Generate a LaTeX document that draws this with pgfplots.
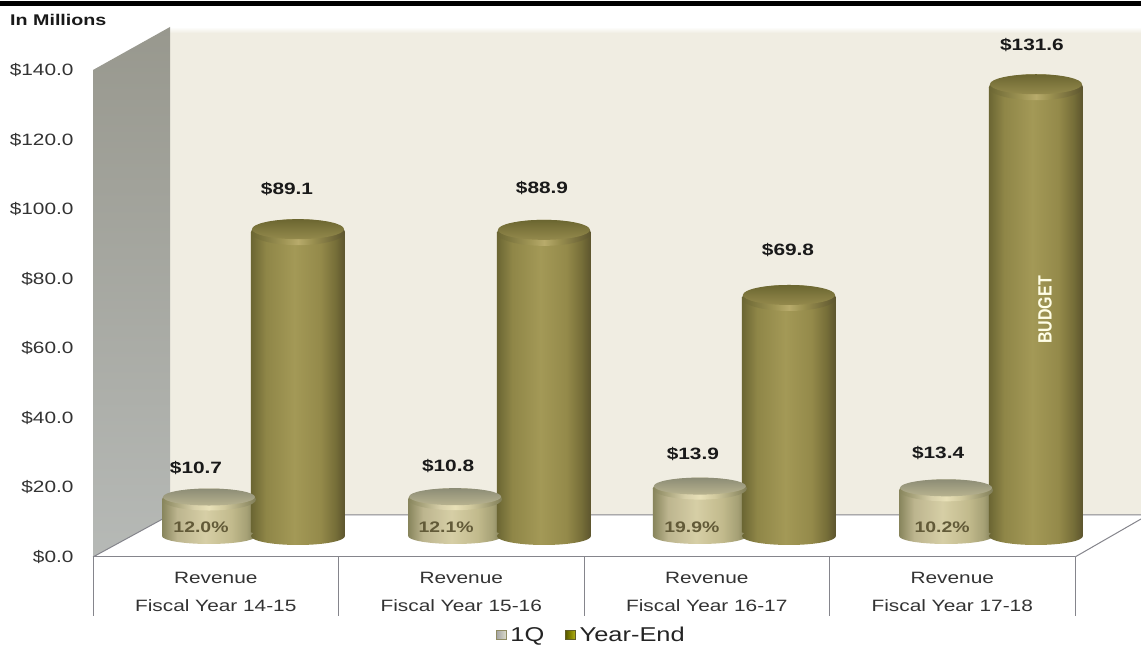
\documentclass[border=0pt]{standalone}
\usepackage{graphicx}
\usepackage{fontspec}
\usepackage{pgfplots}
\usepackage{pgfplotstable}
\pgfplotsset{compat=1.18}
\setmainfont[FakeStretch=1.27]{Liberation Sans}
\newfontfamily\plainsans{Liberation Sans}

\definecolor{wallback}{HTML}{F0EDE2}
\definecolor{wallsideT}{HTML}{98988E}
\definecolor{wallsideB}{HTML}{B6B9B6}
\definecolor{rule}{HTML}{85858C}
\definecolor{ink}{HTML}{333333}
\definecolor{pctink}{HTML}{625A38}

% Cylinder sides: the middle 25--75bp of a shading spans the path's width
\pgfdeclarehorizontalshading{yeside}{100bp}{
  rgb(0bp)=(.42,.40,.20); rgb(25bp)=(.42,.40,.20); rgb(33bp)=(.56,.525,.28);
  rgb(48bp)=(.64,.60,.34); rgb(62bp)=(.58,.54,.29); rgb(70bp)=(.46,.43,.22);
  rgb(75bp)=(.36,.33,.18); rgb(100bp)=(.36,.33,.18)}
\pgfdeclarehorizontalshading{qside}{100bp}{
  rgb(0bp)=(.53,.52,.36); rgb(25bp)=(.53,.52,.36); rgb(33bp)=(.74,.71,.56);
  rgb(48bp)=(.84,.81,.65); rgb(62bp)=(.76,.73,.55); rgb(70bp)=(.65,.63,.46);
  rgb(75bp)=(.50,.49,.34); rgb(100bp)=(.50,.49,.34)}
% Rims and the flat tops of the cylinders
\pgfdeclarehorizontalshading{yerim}{100bp}{
  rgb(0bp)=(.42,.40,.20); rgb(25bp)=(.42,.40,.20); rgb(42bp)=(.62,.58,.33);
  rgb(50bp)=(.72,.67,.42); rgb(58bp)=(.60,.56,.31); rgb(75bp)=(.36,.33,.18);
  rgb(100bp)=(.36,.33,.18)}
\pgfdeclarehorizontalshading{qrim}{100bp}{
  rgb(0bp)=(.53,.52,.36); rgb(25bp)=(.53,.52,.36); rgb(42bp)=(.84,.81,.66);
  rgb(50bp)=(.91,.88,.72); rgb(58bp)=(.82,.79,.62); rgb(75bp)=(.50,.49,.34);
  rgb(100bp)=(.50,.49,.34)}
\pgfdeclareverticalshading{yecap}{100bp}{
  rgb(0bp)=(.58,.54,.30); rgb(25bp)=(.58,.54,.30); rgb(75bp)=(.42,.40,.19);
  rgb(100bp)=(.42,.40,.19)}
\pgfdeclareverticalshading{qcap}{100bp}{
  rgb(0bp)=(.72,.70,.56); rgb(25bp)=(.72,.70,.56); rgb(75bp)=(.55,.55,.46);
  rgb(100bp)=(.55,.55,.46)}

% Plot marks that close a cylinder at its base and at its top
\newcommand{\ellipsepath}[3]{%
  \pgfpathellipse{\pgfqpoint{0pt}{#1}}{\pgfqpoint{#2}{0pt}}{\pgfqpoint{0pt}{#3}}}
\pgfdeclareplotmark{yebase}{\ellipsepath{0pt}{47pt}{9pt}\pgfshadepath{yeside}{0}\pgfusepath{discard}}
\pgfdeclareplotmark{qbase}{\ellipsepath{0pt}{47pt}{8pt}\pgfshadepath{qside}{0}\pgfusepath{discard}}
\pgfdeclareplotmark{yetop}{%
  \ellipsepath{0pt}{47pt}{13pt}\pgfshadepath{yerim}{0}\pgfusepath{discard}%
  \ellipsepath{3pt}{46pt}{10pt}\pgfshadepath{yecap}{0}\pgfusepath{discard}}
\pgfdeclareplotmark{qtop}{%
  \ellipsepath{0pt}{47pt}{11pt}\pgfshadepath{qrim}{0}\pgfusepath{discard}%
  \ellipsepath{2.5pt}{46pt}{8.5pt}\pgfshadepath{qcap}{0}\pgfusepath{discard}}

% One cylinder: position, value, kind (ye or q)
\newcommand{\cylinder}[3]{%
  \addplot[only marks, mark=#3base, forget plot] coordinates {(#1,0)};
  \addplot[ybar, bar width=94pt, bar shift=0pt, draw=none, shading=#3side, forget plot] coordinates {(#1,#2)};
  \addplot[only marks, mark=#3top, forget plot] coordinates {(#1,#2)};
}

% Value labels: position, value, label offsets from the top of the cylinder
\pgfplotstableread{
x      y      dx    dy
0.4725 10.7  -13.0  31.5
0.835  89.1  -11.0  43.0
1.475  10.8   -7.0  33.0
1.837  88.9   -2.0  45.0
2.472  13.9   -7.0  34.6
2.835  69.8   -1.0  48.0
3.475  13.4   -8.0  37.0
3.841  131.6  -4.0  42.0
}\valuelabels

% Share labels printed on the 1Q cylinders
\pgfplotstableread{
x      y  dx     share
0.4725 0  -8.0   12.0
1.475  0  -9.0   12.1
2.472  0  -8.0   19.9
3.475  0  -4.0   10.2
}\sharelabels

\begin{document}
\begin{tikzpicture}[x=1pt,y=1pt]
\useasboundingbox (0,0) rectangle (1141,645);
\fill[white] (0,0) rectangle (1141,645);
\fill[black] (0,639) rectangle (1141,644);

% Walls and floor of the chart box
\fill[wallback] (170,130) rectangle (1141,612);
\shade[top color=white, bottom color=wallback] (170,612) rectangle (1141,618);
\shade[top color=wallsideT, bottom color=wallsideB]
  (93,88) -- (93,575) -- (170,618) -- (170,130) -- cycle;
\draw[rule, line width=1pt] (93,88) -- (170,130) -- (1141,130);
\draw[rule, line width=1pt] (1075,88) -- (1141,126);

\node[anchor=west, inner sep=0pt, font=\fontsize{15.5}{18}\selectfont\bfseries, text=black!90]
  at (10,625) {In Millions};

% Front plane: dollar scale and category boxes
\begin{axis}[
  at={(93pt,88pt)}, anchor=south west, scale only axis,
  width=982pt, height=487pt,
  xmin=0, xmax=4, ymin=0, ymax=140,
  axis x line=bottom, axis y line=left,
  x axis line style={-, draw=rule, line width=1pt},
  y axis line style={draw=none},
  ytick={0,20,40,60,80,100,120,140},
  yticklabel={\$\pgfmathprintnumber[fixed,fixed zerofill,precision=1,assume math mode=true]{\tick}},
  yticklabel style={font=\fontsize{16.4}{18}\selectfont, text=ink, xshift=-16pt},
  xtick={0.5,1.5,2.5,3.5},
  xticklabels={Revenue\\Fiscal Year 14-15,Revenue\\Fiscal Year 15-16,Revenue\\Fiscal Year 16-17,Revenue\\Fiscal Year 17-18},
  xticklabel style={font=\fontsize{16.4}{28}\selectfont, text=ink, align=center, yshift=-12pt},
  major tick length=0pt,
  extra x ticks={0,1,2,3,4},
  extra x tick labels={},
  extra x tick style={major tick length=59pt, tick style={draw=rule, line width=1pt}, tick align=outside},
  clip=false,
]
\end{axis}

% Cylinders, their labels and the legend
\begin{axis}[
  at={(93pt,109pt)}, anchor=south west, scale only axis,
  width=982pt, height=477.4pt,
  xmin=0, xmax=4, ymin=0, ymax=140,
  hide axis, clip=false,
  legend style={at={(0.5075,-0.2075)}, anchor=center, draw=none, fill=none,
    font=\fontsize{20}{22}\selectfont, text=ink!70!black, legend columns=2,
    /tikz/every even column/.append style={column sep=19pt},
    /tikz/every odd column/.append style={column sep=2pt}},
]
\cylinder{0.4725}{10.7}{q}
\cylinder{0.835}{89.1}{ye}
\cylinder{1.475}{10.8}{q}
\cylinder{1.837}{88.9}{ye}
\cylinder{2.472}{13.9}{q}
\cylinder{2.835}{69.8}{ye}
\cylinder{3.475}{13.4}{q}
\cylinder{3.841}{131.6}{ye}

\addplot[only marks, mark=none, forget plot,
  visualization depends on={\thisrow{dx} \as \dxval},
  visualization depends on={\thisrow{dy} \as \dyval},
  point meta=y,
  nodes near coords={\$\pgfmathprintnumber[fixed,fixed zerofill,precision=1,assume math mode=true]{\pgfplotspointmeta}},
  every node near coord/.append style={anchor=center, inner sep=0pt,
    font=\fontsize{16.4}{18}\selectfont\bfseries, text=black!90,
    xshift=\dxval pt, yshift=\dyval pt},
] table[x=x, y=y] {\valuelabels};

\addplot[only marks, mark=none, forget plot,
  visualization depends on={\thisrow{dx} \as \dxval},
  point meta={\thisrow{share}},
  nodes near coords={\pgfmathprintnumber[fixed,fixed zerofill,precision=1,assume math mode=true]{\pgfplotspointmeta}\%},
  every node near coord/.append style={anchor=center, inner sep=0pt,
    font=\fontsize{15.3}{18}\selectfont\bfseries, text=pctink,
    xshift=\dxval pt, yshift=9pt},
] table[x=x, y=y] {\sharelabels};

\node[rotate=90, inner sep=0pt, text=white!90!yellow, font=\plainsans\bfseries\fontsize{16}{18}\selectfont]
  at (axis cs:3.878,66.3) {\scalebox{1}[1.2]{BUDGET}};

\addlegendimage{legend image code/.code={
  \shade[left color=black!20!gray!60!white, right color=yellow!20!gray!35!white, draw=gray!70!olive] (0pt,-4pt) rectangle (10pt,5pt);}}
\addlegendentry{1Q}
\addlegendimage{legend image code/.code={
  \shade[left color=olive!70!black, right color=olive!60!white, draw=olive!60!black] (0pt,-4pt) rectangle (10pt,5pt);}}
\addlegendentry{Year-End}
\end{axis}
\end{tikzpicture}
\end{document}
